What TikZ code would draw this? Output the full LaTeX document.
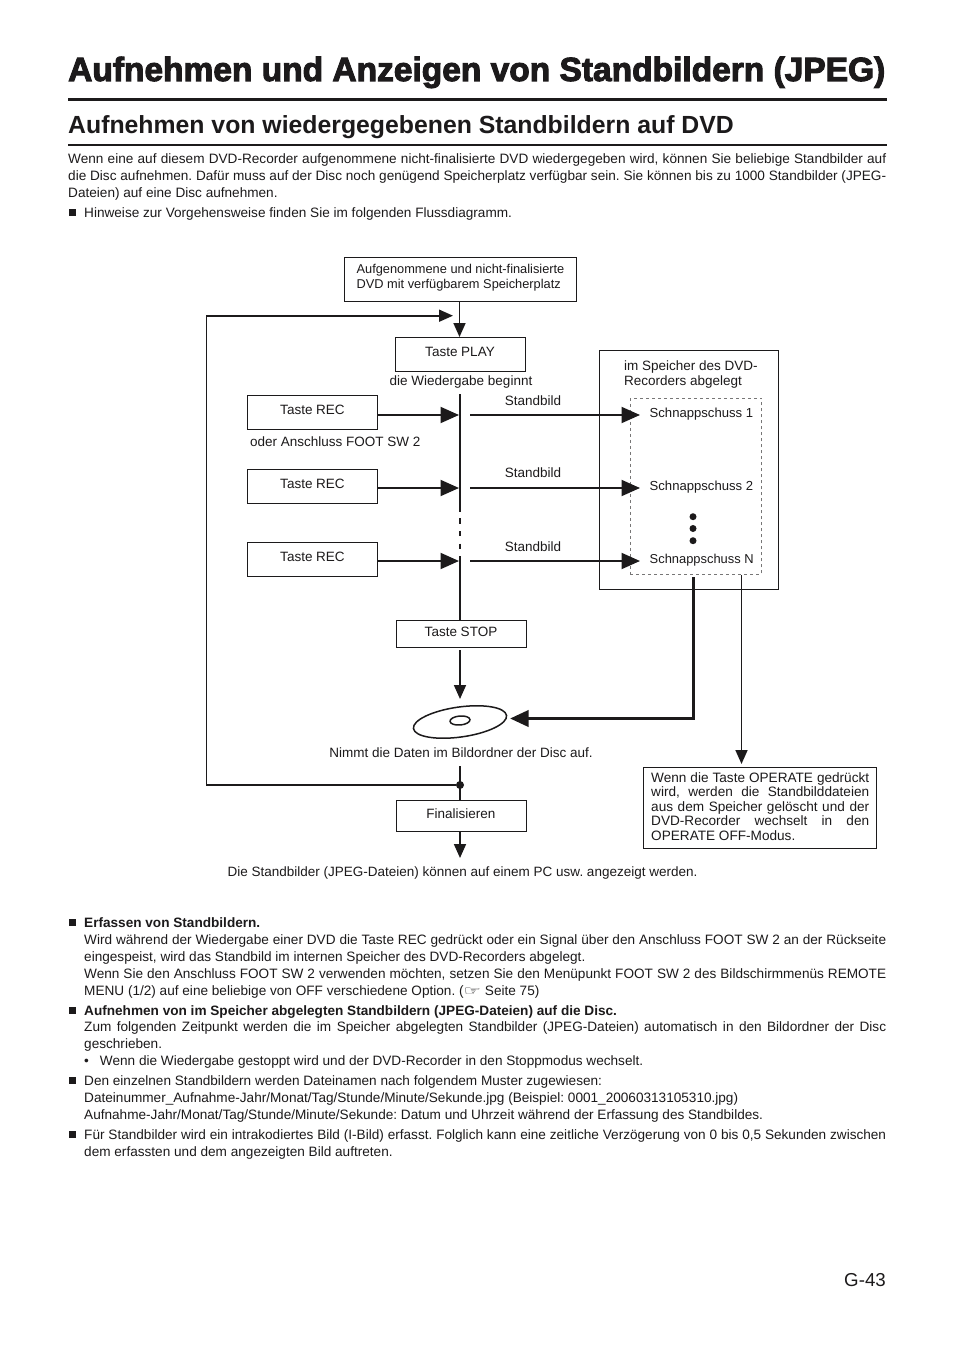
\documentclass[tikz,border=0pt]{standalone}
\usepackage{fontspec}
\setmainfont{Liberation Sans}
\newfontface\titlefont{Liberation Sans Bold}[FakeBold=3]
\newfontfamily\symfont{DejaVu Sans}
\usetikzlibrary{arrows.meta,shapes.geometric}
\definecolor{ink}{HTML}{1C1A1B}
\frenchspacing

\begin{document}
\begin{tikzpicture}[x=1pt,y=-1pt,ink,
  body/.style={anchor=north west,inner sep=0pt,text width=802pt,align=justify,font=\fontsize{13.6}{16.9}\selectfont},
  line/.style={anchor=base west,inner sep=0pt,font=\fontsize{13.5}{15}\selectfont},
  mid/.style={anchor=base,inner sep=0pt,font=\fontsize{13.5}{15}\selectfont},
  box/.style={draw,line width=1pt,inner sep=0pt,minimum width=130pt,minimum height=34pt,text height=9pt,text depth=5pt,font=\fontsize{13.5}{15}\selectfont},
  bul/.style={fill,inner sep=0pt,minimum size=7pt},
  smallarr/.style={-{Triangle[length=14pt,width=12pt]},line width=1.7pt},
  recarr/.style={-{Triangle[length=18.5pt,width=16pt]},line width=2pt},
  heavyarr/.style={-{Triangle[length=18.5pt,width=16pt]},line width=3.5pt},
  stem/.style={line width=2pt},
  dot/.style={circle,fill,inner sep=0pt,minimum size=7pt}]
\useasboundingbox (0,0) rectangle (954,1351);
\fill[white] (0,0) rectangle (954,1351);

\node[anchor=base west,inner sep=0pt,font=\titlefont\fontsize{33.5}{36}\selectfont] at (68,81) (title) {Aufnehmen und Anzeigen von Standbildern (JPEG)};
\coordinate (ruleA) at (68,100);
\coordinate (ruleB) at (887,100);
\draw[line width=3pt] (ruleA) -- (ruleB);
\node[anchor=base west,inner sep=0pt,font=\bfseries\fontsize{24.8}{26}\selectfont] at (68,134) (subtitle) {Aufnehmen von wiedergegebenen Standbildern auf DVD};
\coordinate (ruleC) at (68,145);
\coordinate (ruleD) at (887,145);
\draw[line width=1.5pt] (ruleC) -- (ruleD);

\node[body,text width=818pt] at (68,153.2) (intro) {Wenn eine auf diesem DVD-Recorder aufgenommene nicht-finalisierte DVD wiedergegeben wird, können Sie beliebige Standbilder auf\linebreak die Disc aufnehmen. Dafür muss auf der Disc noch genügend Speicherplatz verfügbar sein. Sie können bis zu 1000 Standbilder (JPEG-\linebreak Dateien) auf eine Disc aufnehmen.};
\node[bul] at (72.5,212.5) (b0) {};
\node[body] at (84,207.2) (hint) {Hinweise zur Vorgehensweise finden Sie im folgenden Flussdiagramm.};

\node[box,minimum width=232pt,minimum height=43.5pt,text height=,text depth=7pt,align=left,font=\fontsize{12.8}{15}\selectfont] at (460.5,279.5) (start) {Aufgenommene und nicht-finalisierte\\DVD mit verfügbarem Speicherplatz};
\node[box] at (460,354) (play) {Taste PLAY};
\node[mid] at (461,385) (begins) {die Wiedergabe beginnt};
\node[box] at (312.5,412.5) (rec1) {Taste REC};
\node[line] at (250,446) (foot) {oder Anschluss FOOT SW 2};
\node[box] at (312.5,486) (rec2) {Taste REC};
\node[box] at (312.5,559) (rec3) {Taste REC};
\node[box,minimum height=27pt] at (461,634) (stop) {Taste STOP};
\node[box,minimum height=30.5pt] at (461,816) (final) {Finalisieren};
\node[draw,ellipse,line width=1.5pt,rotate=8,inner sep=0pt,minimum width=94pt,minimum height=30pt] at (460,722) (disc) {};
\node[draw,ellipse,line width=1.5pt,rotate=5,inner sep=0pt,minimum width=20pt,minimum height=9pt] at (460,720.5) (hole) {};
\node[mid] at (461,757) (burn) {Nimmt die Daten im Bildordner der Disc auf.};
\node[mid] at (462.5,876) (pc) {Die Standbilder (JPEG-Dateien) können auf einem PC usw. angezeigt werden.};

\node[mid] at (533,405) (still1) {Standbild};
\node[mid] at (533,477.5) (still2) {Standbild};
\node[mid] at (533,551) (still3) {Standbild};

\node[draw,line width=1pt,inner sep=0pt,minimum width=178.5pt,minimum height=238.5pt] at (688.8,469.8) (mem) {};
\node[draw=ink!60,line width=0.8pt,dash pattern=on 3pt off 3pt,inner sep=0pt,minimum width=131.5pt,minimum height=175.5pt] at (695.8,486.2) (snapbox) {};
\node[line,align=left,anchor=north west] at (624,361) (memtxt) {im Speicher des DVD-\\Recorders abgelegt};
\node[line,font=\fontsize{13.1}{15}\selectfont] at (649.5,417) (snap1) {Schnappschuss 1};
\node[line,font=\fontsize{13.1}{15}\selectfont] at (649.5,490) (snap2) {Schnappschuss 2};
\node[line,font=\fontsize{12.9}{15}\selectfont] at (649.5,563) (snapn) {Schnappschuss N};
\node[dot] at (693,516.7) (d1) {};
\node[dot] at (693,528.5) (d2) {};
\node[dot] at (693,540.7) (d3) {};

\node[draw,line width=1pt,inner sep=0pt,minimum width=232.5pt,minimum height=81pt] at (760.2,807.5) (oper) {};
\node[anchor=north west,inner sep=0pt,text width=218pt,align=justify,font=\fontsize{13.6}{14.5}\selectfont] at (651,772.2) (opertxt) {Wenn die Taste OPERATE gedrückt\linebreak wird, werden die Standbilddateien\linebreak aus dem Speicher gelöscht und der\linebreak DVD-Recorder wechselt in den\linebreak OPERATE OFF-Modus.};

\coordinate (topin) at (459.5,337);
\node[circle,fill,inner sep=0pt,minimum size=8pt] at (460,785) (jct) {};
\coordinate (loopa) at (206.5,785);
\coordinate (loopb) at (206.5,315.7);
\coordinate (looptip) at (453,315.7);
\coordinate (stema) at (460,394);
\coordinate (stemb) at (460,512);
\coordinate (stemc) at (460,556);
\coordinate (dash1a) at (460,518);
\coordinate (dash1b) at (460,523.5);
\coordinate (dash2a) at (460,531);
\coordinate (dash2b) at (460,536);
\coordinate (dash3a) at (460,543.5);
\coordinate (dash3b) at (460,549);
\coordinate (disctip) at (460,699);
\coordinate (downa) at (460,766);
\coordinate (endtip) at (460,858);
\coordinate (hit1) at (459,415);
\coordinate (hit2) at (459,488);
\coordinate (hit3) at (459,561);
\coordinate (out1) at (470,415);
\coordinate (out2) at (470,488);
\coordinate (out3) at (470,561);
\coordinate (tip1) at (640,415);
\coordinate (tip2) at (640,488);
\coordinate (tip3) at (640,561);
\coordinate (heavya) at (693.5,577);
\coordinate (heavyb) at (693.5,718.5);
\coordinate (heavytip) at (510,718.5);
\coordinate (opera) at (741.5,575);
\coordinate (opertip) at (741.5,764);

\draw[smallarr] (start.south -| topin) -- (topin);
\draw[smallarr] (jct) -- (loopa) -- (loopb) -- (looptip);
\draw[stem] (stema) -- (stemb);
\draw[stem] (dash1a) -- (dash1b);
\draw[stem] (dash2a) -- (dash2b);
\draw[stem] (dash3a) -- (dash3b);
\draw[stem] (stemc) -- (stop.north -| stemc);
\draw[smallarr] ([yshift=-2pt]stop.south -| stemc) -- (disctip);
\draw[stem] (downa) -- (final.north -| downa);
\draw[smallarr] (final.south -| downa) -- (endtip);
\draw[recarr] (rec1.east |- hit1) -- (hit1);
\draw[recarr] (rec2.east |- hit2) -- (hit2);
\draw[recarr] (rec3.east |- hit3) -- (hit3);
\draw[recarr] (out1) -- (tip1);
\draw[recarr] (out2) -- (tip2);
\draw[recarr] (out3) -- (tip3);
\draw[heavyarr] (heavya) -- (heavyb) -- (heavytip);
\draw[smallarr] (opera) -- (opertip);

\node[bul] at (72.5,922.5) (b1) {};
\node[body] at (84,917.6) (capture) {\textbf{Erfassen von Standbildern.}\newline Wird während der Wiedergabe einer DVD die Taste REC gedrückt oder ein Signal über den Anschluss FOOT SW 2 an der Rückseite\linebreak eingespeist, wird das Standbild im internen Speicher des DVD-Recorders abgelegt.\newline Wenn Sie den Anschluss FOOT SW 2 verwenden möchten, setzen Sie den Menüpunkt FOOT SW 2 des Bildschirmmenüs REMOTE\linebreak MENU (1/2) auf eine beliebige von OFF verschiedene Option. (\smash{\scalebox{1.5}[1]{\symfont\fontsize{13}{15}\selectfont ☞}} Seite 75)};
\node[bul] at (72.5,1010.5) (b2) {};
\node[body] at (84,1005) (record) {\textbf{Aufnehmen von im Speicher abgelegten Standbildern (JPEG-Dateien) auf die Disc.}\newline Zum folgenden Zeitpunkt werden die im Speicher abgelegten Standbilder (JPEG-Dateien) automatisch in den Bildordner der Disc\linebreak geschrieben.};
\node[body,text width=786pt] at (84,1055.5) (stopmode) {•\hspace{11pt}Wenn die Wiedergabe gestoppt wird und der DVD-Recorder in den Stoppmodus wechselt.};
\node[bul] at (72.5,1080.5) (b3) {};
\node[body] at (84,1075.5) (names) {Den einzelnen Standbildern werden Dateinamen nach folgendem Muster zugewiesen:\newline Dateinummer\_Aufnahme-Jahr/Monat/Tag/Stunde/Minute/Sekunde.jpg (Beispiel: 0001\_20060313105310.jpg)\newline Aufnahme-Jahr/Monat/Tag/Stunde/Minute/Sekunde: Datum und Uhrzeit während der Erfassung des Standbildes.};
\node[bul] at (72.5,1134.5) (b4) {};
\node[body] at (84,1129.5) (delay) {Für Standbilder wird ein intrakodiertes Bild (I-Bild) erfasst. Folglich kann eine zeitliche Verzögerung von 0 bis 0,5 Sekunden zwischen\linebreak dem erfassten und dem angezeigten Bild auftreten.};

\node[anchor=base east,inner sep=0pt,font=\fontsize{18.7}{20}\selectfont] at (886,1286.5) (page) {G-43};
\end{tikzpicture}
\end{document}
